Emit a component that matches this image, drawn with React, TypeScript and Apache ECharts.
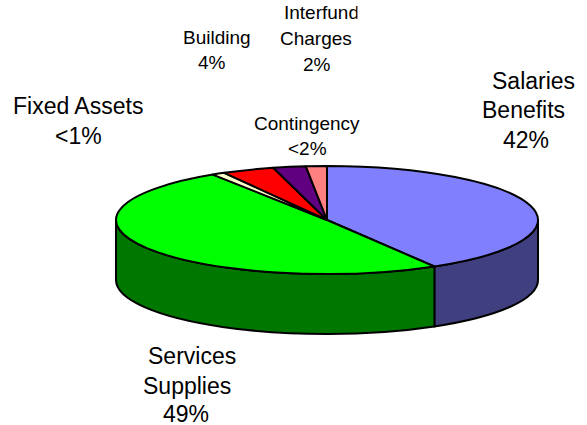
import React, { useEffect, useRef } from "react";
import * as echarts from "echarts";

const sliceNames = ["Salaries Benefits", "Services Supplies", "Fixed Assets", "Building", "Interfund Charges", "Contingency"];
const sliceValues = [41.5, 49.4, 1.0, 4.0, 2.5, 1.6];
const topColors = ["#8080FF", "#00FF00", "#FFFFCC", "#FF0000", "#600080", "#FF8080"];
const sideColors = ["#404080", "#007800", "#808066", "#800000", "#300040", "#804040"];
const labelLines: [string, number, number, number][] = [
  ["Salaries", 492, 87, 23],
  ["Benefits", 482, 116, 23],
  ["42%", 503, 146, 23],
  ["Services", 148, 362, 23],
  ["Supplies", 143, 392, 23],
  ["49%", 163, 420, 23],
  ["Fixed Assets", 13, 112, 23],
  ["<1%", 55, 142, 23],
  ["Building", 183, 43, 19],
  ["4%", 198, 68, 19],
  ["Interfund", 284, 18, 19],
  ["Charges", 280, 44, 19],
  ["2%", 303, 70, 19],
  ["Contingency", 254, 129, 19],
  ["<2%", 288, 154, 19],
];
const clipMasks = [
  [250.5, 26, 6, 26],
  [357.5, 0, 6, 22],
];

const CX = 327, CY = 220, RX = 211, RY = 54, DEPTH = 60;
const total = sliceValues.reduce((a, b) => a + b, 0);
const pt = (deg: number, dy = 0) => {
  const r = (deg * Math.PI) / 180;
  return [CX + RX * Math.sin(r), CY - RY * Math.cos(r) + dy];
};
const arc = (to: number[], large: boolean, sweep: boolean) =>
  `A${RX} ${RY} 0 ${large ? 1 : 0} ${sweep ? 1 : 0} ${to[0]} ${to[1]}`;

function renderItem(_p: any, api: any) {
  const i = api.value(0);
  let start = 0;
  for (let k = 0; k < i; k++) start += sliceValues[k];
  const a0 = (start / total) * 360;
  const a1 = ((start + api.value(1)) / total) * 360;
  const children: any[] = [];
  const s0 = Math.max(a0, 90), s1 = Math.min(a1, 270);
  const stroke = { stroke: "#000", lineWidth: 2, lineJoin: "round" };
  if (s1 > s0) {
    const p0 = pt(s0), p1 = pt(s1), q1 = pt(s1, DEPTH), q0 = pt(s0, DEPTH);
    children.push({
      type: "path",
      shape: { pathData: `M${p0[0]} ${p0[1]}${arc(p1, s1 - s0 > 180, true)}L${q1[0]} ${q1[1]}${arc(q0, s1 - s0 > 180, false)}Z` },
      style: { fill: sideColors[i], ...stroke },
    });
  }
  const t0 = pt(a0), t1 = pt(a1);
  children.push({
    type: "path",
    shape: { pathData: `M${CX} ${CY}L${t0[0]} ${t0[1]}${arc(t1, a1 - a0 > 180, true)}Z` },
    style: { fill: topColors[i], ...stroke },
  });
  return { type: "group", children };
}

export default function App() {
  const ref = useRef<HTMLDivElement>(null);
  useEffect(() => {
    const chart = echarts.init(ref.current!, null, { renderer: "svg" });
    const graphic: any[] = labelLines.map(([t, x, y, size]) => ({
      type: "text", x, y: y + Math.round(size * 0.2), silent: true, z: 10,
      style: { text: t, fill: "#000", font: `${size}px "Liberation Sans", Arial, sans-serif`, align: "left", verticalAlign: "bottom" },
    }));
    clipMasks.forEach(([x, y, width, height]) => {
      graphic.push({ type: "rect", z: 11, silent: true, shape: { x, y, width, height }, style: { fill: "#fff" } });
    });
    chart.setOption({
      animation: false,
      backgroundColor: "#fff",
      graphic,
      series: [{
        type: "custom", coordinateSystem: "none", renderItem,
        data: sliceValues.map((v, i) => ({ name: sliceNames[i], value: [i, v] })),
      }],
    });
    return () => chart.dispose();
  }, []);
  return <div ref={ref} style={{ position: "fixed", left: 0, top: 0, width: 587, height: 425 }} />;
}
